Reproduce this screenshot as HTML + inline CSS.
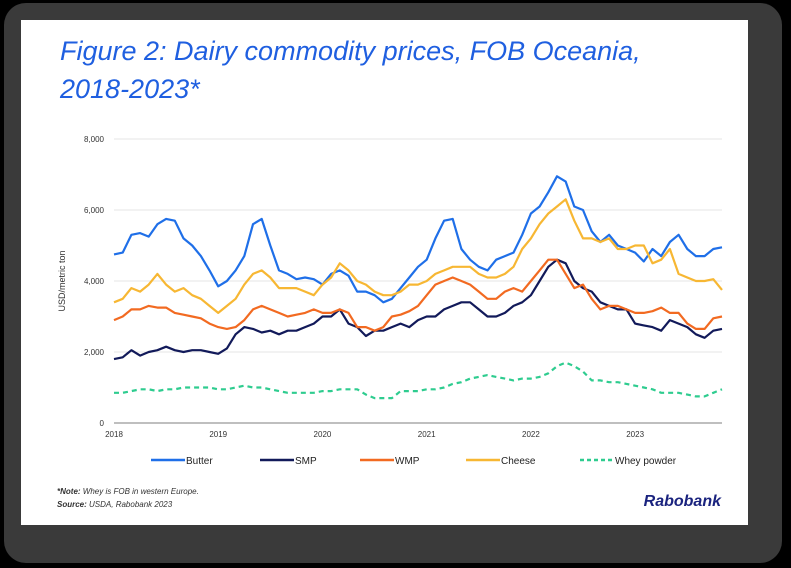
<!DOCTYPE html>
<html><head><meta charset="utf-8"><style>
html,body{margin:0;padding:0;background:#000;width:791px;height:568px;overflow:hidden;font-family:"Liberation Sans",sans-serif}
#frame{position:absolute;left:4px;top:3px;width:778px;height:560px;background:#3a3a3a;border-radius:22px}
#card{position:absolute;left:21px;top:20px;width:727px;height:505px;background:#fff}
</style></head><body>
<div id="frame"></div>
<div id="card"></div>
<svg id="chart" width="791" height="568" style="position:absolute;left:0;top:0">
<text x="60" y="60" font-size="27" font-style="italic" fill="#1f5fe0">Figure 2: Dairy commodity prices, FOB Oceania,</text>
<text x="60" y="98" font-size="27" font-style="italic" fill="#1f5fe0">2018-2023*</text>
<text transform="translate(65,281) rotate(-90)" text-anchor="middle" font-size="9" fill="#333">USD/metric ton</text>
<g id="grid"></g><g id="series"></g><g id="legend"></g>
<text x="57" y="494" font-size="8" font-style="italic" fill="#333"><tspan font-weight="bold">*Note:</tspan> Whey is FOB in western Europe.</text>
<text x="57" y="507" font-size="8" font-style="italic" fill="#333"><tspan font-weight="bold">Source:</tspan> USDA, Rabobank 2023</text>
<text x="721" y="506" text-anchor="end" font-size="16" font-weight="bold" font-style="italic" fill="#1a237e">Rabobank</text>
</svg>
<script>
const yTicks=[0,2000,4000,6000,8000];
const yTickLabels=["0","2,000","4,000","6,000","8,000"];
const years=["2018","2019","2020","2021","2022","2023"];
const butter=[4750,4800,5300,5350,5250,5600,5750,5700,5200,5000,4700,4300,3850,4000,4300,4700,5600,5750,5000,4300,4200,4050,4100,4050,3900,4200,4300,4150,3700,3700,3600,3400,3500,3800,4100,4400,4600,5200,5700,5750,4900,4600,4400,4300,4600,4700,4800,5300,5900,6100,6500,6950,6800,6100,6000,5400,5100,5300,5000,4900,4800,4550,4900,4700,5100,5300,4900,4700,4700,4900,4950];
const smp=[1800,1850,2050,1900,2000,2050,2150,2050,2000,2050,2050,2000,1950,2100,2500,2700,2650,2550,2600,2500,2600,2600,2700,2800,3000,3000,3200,2800,2700,2450,2600,2600,2700,2800,2700,2900,3000,3000,3200,3300,3400,3400,3200,3000,3000,3100,3300,3400,3600,4000,4400,4600,4500,4000,3800,3700,3400,3300,3200,3200,2800,2750,2700,2600,2900,2800,2700,2500,2400,2600,2650];
const wmp=[2900,3000,3200,3200,3300,3250,3250,3100,3050,3000,2950,2800,2700,2650,2700,2900,3200,3300,3200,3100,3000,3050,3100,3200,3100,3100,3200,3100,2700,2700,2600,2700,3000,3050,3150,3300,3600,3900,4000,4100,4000,3900,3700,3500,3500,3700,3800,3700,4000,4300,4600,4600,4200,3800,3900,3500,3200,3300,3300,3200,3100,3100,3150,3250,3100,3100,2800,2650,2650,2950,3000];
const cheese=[3400,3500,3800,3700,3900,4200,3900,3700,3800,3600,3500,3300,3100,3300,3500,3900,4200,4300,4100,3800,3800,3800,3700,3600,3900,4100,4500,4300,4000,3900,3700,3600,3600,3700,3900,3900,4000,4200,4300,4400,4400,4400,4200,4100,4100,4200,4400,4900,5200,5600,5900,6100,6300,5700,5200,5200,5100,5200,4900,4900,5000,5000,4500,4600,4900,4200,4100,4000,4000,4050,3750];
const whey=[850,850,900,950,950,900,950,950,1000,1000,1000,1000,950,950,1000,1050,1000,1000,950,900,850,850,850,850,900,900,950,950,950,800,700,700,700,900,900,900,950,950,1000,1100,1150,1250,1300,1350,1300,1250,1200,1250,1250,1300,1400,1600,1700,1600,1450,1200,1200,1150,1150,1100,1050,1000,950,850,850,850,800,750,750,850,950];
const names=["Butter","SMP","WMP","Cheese","Whey powder"];
const colors=["#1f6fe8","#121a5a","#f26a21","#f7b733","#2ecc8f"];
const NS="http://www.w3.org/2000/svg";
const x0=114,x1=722,yb=423,yt=139;
const xs=i=>x0+i*(x1-x0)/70;
const ys=v=>yb-(v/8000)*(yb-yt);
function mk(t,a,p){const e=document.createElementNS(NS,t);for(const k in a)e.setAttribute(k,a[k]);p.appendChild(e);return e;}
const grid=document.getElementById('grid');
yTicks.forEach((v,i)=>{
  const l=mk('line',{x1:x0,x2:x1,y1:ys(v),y2:ys(v),stroke:i==0?'#aaa':'#e6e6e6','stroke-width':i==0?1.5:1},grid);
  
  
  const t=mk('text',{x:104,y:ys(v)+3,'text-anchor':'end','font-size':8,fill:'#333'},grid);
  t.textContent=yTickLabels[i];
  
  
});
years.forEach((y,i)=>{
  const t=mk('text',{x:xs(i*12),y:437,'text-anchor':'middle','font-size':8,fill:'#333'},grid);
  t.textContent=y;
  
  
});
const sg=document.getElementById('series');
[butter,smp,wmp,cheese,whey].forEach((d,k)=>{
  const p=mk('path',{d:d.map((v,i)=>(i?'L':'M')+xs(i).toFixed(1)+','+ys(v).toFixed(1)).join(''),fill:'none',stroke:colors[k],'stroke-width':2.2,'stroke-linejoin':'round'},sg);
  if(k==4)p.setAttribute('stroke-dasharray','5,4');
  
  
});
const lg=document.getElementById('legend');
const lx=[151,260,360,466,580];
names.forEach((n,k)=>{
  const l=mk('line',{x1:lx[k],x2:lx[k]+34,y1:460,y2:460,stroke:colors[k],'stroke-width':2.5},lg);
  if(k==4)l.setAttribute('stroke-dasharray','4,3');
  
  
  const t=mk('text',{x:lx[k]+35,y:464,'font-size':10,fill:'#222'},lg);
  t.textContent=n;
  
  
});
</script>
</body></html>
